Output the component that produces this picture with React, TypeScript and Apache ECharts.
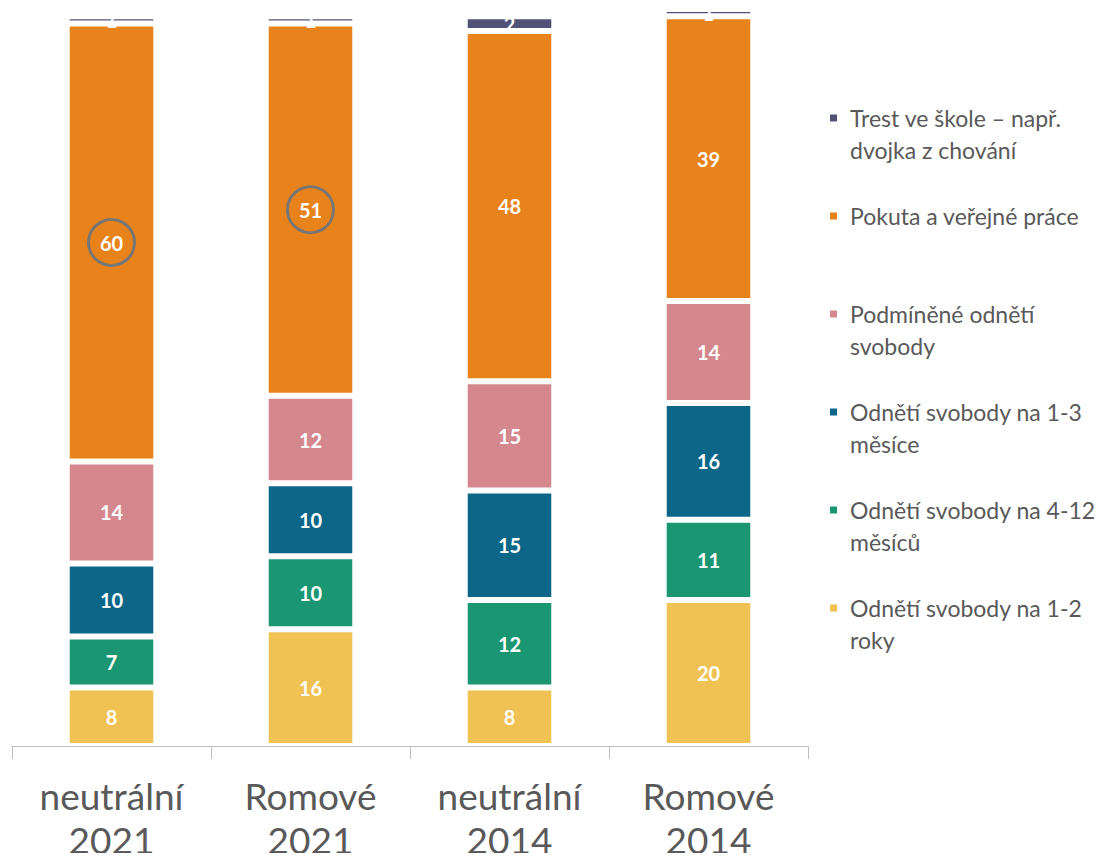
import React, { useEffect, useRef } from "react";
import * as echarts from "echarts";

const categories = ["neutrální\n2021", "Romové\n2021", "neutrální\n2014", "Romové\n2014"];

const seriesNames = [
  "Odnětí svobody na 1-2 roky",
  "Odnětí svobody na 4-12 měsíců",
  "Odnětí svobody na 1-3 měsíce",
  "Podmíněné odnětí svobody",
  "Pokuta a veřejné práce",
  "Trest ve škole – např. dvojka z chování",
];

const legendLabels: Record<string, string> = {
  "Trest ve škole – např. dvojka z chování": " \nTrest ve škole – např.\ndvojka z chování",
  "Pokuta a veřejné práce": " \nPokuta a veřejné práce\n ",
  "Podmíněné odnětí svobody": " \nPodmíněné odnětí\nsvobody",
  "Odnětí svobody na 1-3 měsíce": " \nOdnětí svobody na 1-3\nměsíce",
  "Odnětí svobody na 4-12 měsíců": " \nOdnětí svobody na 4-12\nměsíců",
  "Odnětí svobody na 1-2 roky": " \nOdnětí svobody na 1-2\nroky",
};

const roky12 = [8, 16, 8, 20];
const mesicu412 = [7, 10, 12, 11];
const mesice13 = [10, 10, 15, 16];
const podminene = [14, 12, 15, 14];
const pokuta = [60, 51, 48, 39];
const trest = [1, 1, 2, 1];

const seriesValues = [roky12, mesicu412, mesice13, podminene, pokuta, trest];
const colors = ["#F0C153", "#1B9673", "#0B6688", "#D4878C", "#E8821A", "#525279"];

// categories whose Pokuta value is circled
const circledIdx = [0, 1];

export default function App() {
  const ref = useRef<HTMLDivElement>(null);
  useEffect(() => {
    if (!ref.current) return;
    const chart = echarts.init(ref.current, undefined, { renderer: "svg" });
    const pokutaIndex = 4;
    const markData = circledIdx.map((ci) => {
      let below = 0;
      for (let s = 0; s < pokutaIndex; s++) below += seriesValues[s][ci];
      return { coord: [ci, below + seriesValues[pokutaIndex][ci] / 2] };
    });
    const series = seriesNames.map((name, i) => ({
      name,
      type: "bar",
      stack: "total",
      barWidth: "45%",
      data: seriesValues[i],
      itemStyle: { color: colors[i], borderColor: "#ffffff", borderWidth: 3 },
      label: {
        show: true,
        position: "inside",
        color: "#ffffff",
        fontWeight: "bold",
        fontSize: 20,
        fontFamily: "Lato",
      },
      markPoint:
        i === pokutaIndex
          ? {
              symbol: "circle",
              symbolSize: 46,
              itemStyle: { color: "rgba(0,0,0,0)", borderColor: "#767676", borderWidth: 3 },
              label: { show: false },
              data: markData,
            }
          : undefined,
    }));
    chart.setOption({
      animation: false,
      grid: { left: 4, right: 289, top: 1, bottom: 115, outerBoundsMode: "none", containLabel: false },
      xAxis: {
        type: "category",
        data: categories,
        axisLine: { lineStyle: { color: "#BFBFBF", width: 1 } },
        axisTick: { show: true, length: 13, lineStyle: { color: "#BFBFBF" } },
        axisLabel: {
          color: "#595959",
          fontSize: 37,
          lineHeight: 44,
          margin: 27,
          fontFamily: "Lato",
        },
      },
      yAxis: { type: "value", min: 0, max: 101, show: false, splitLine: { show: false } },
      legend: {
        orient: "vertical",
        left: 815,
        top: 57,
        itemGap: 2,
        itemWidth: 9,
        itemHeight: 9,
        icon: "rect",
        data: [...seriesNames].reverse(),
        formatter: (n: string) => legendLabels[n] || n,
        textStyle: {
          color: "#595959",
          fontSize: 23,
          lineHeight: 32,
          fontFamily: "Lato",
          padding: [0, 0, 0, 7],
        },
      },
      series,
    });
    return () => chart.dispose();
  }, []);
  return <div ref={ref} style={{ width: 1089, height: 853, marginBottom: -8 }} />;
}
